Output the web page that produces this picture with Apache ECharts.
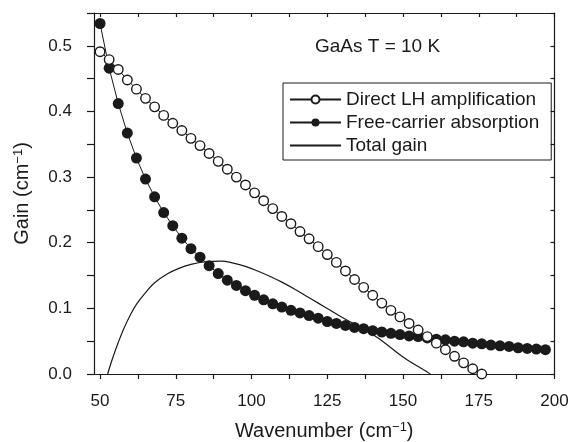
<!DOCTYPE html>
<html>
<head>
<meta charset="utf-8">
<script src="https://cdn.jsdelivr.net/npm/echarts@6/dist/echarts.min.js"></script>
<style>
html,body{margin:0;padding:0;background:#fff;}
#chart{width:572px;height:442px;}
</style>
</head>
<body>
<div id="chart"></div>
<script>
// Direct LH amplification (open circles)
var directX = [50,53,56,59,62,65,68,71,74,77,80,83,86,89,92,95,98,101,104,107,110,113,116,119,122,125,128,131,134,137,140,143,146,149,152,155,158,161,164,167,170,173,176];
var directY = [0.491,0.479,0.464,0.448,0.434,0.420,0.407,0.394,0.382,0.371,0.359,0.348,0.336,0.324,0.312,0.300,0.288,0.276,0.264,0.252,0.240,0.229,0.217,0.206,0.194,0.182,0.170,0.157,0.144,0.132,0.120,0.108,0.097,0.087,0.077,0.067,0.057,0.047,0.037,0.027,0.017,0.008,0.000];

// Free-carrier absorption (filled circles)
var freeX = [50,53,56,59,62,65,68,71,74,77,80,83,86,89,92,95,98,101,104,107,110,113,116,119,122,125,128,131,134,137,140,143,146,149,152,155,158,161,164,167,170,173,176,179,182,185,188,191,194,197];
var freeY = [0.534,0.466,0.412,0.367,0.329,0.297,0.270,0.246,0.226,0.207,0.191,0.178,0.165,0.153,0.143,0.135,0.127,0.120,0.113,0.107,0.102,0.097,0.093,0.089,0.085,0.080,0.077,0.074,0.071,0.069,0.066,0.064,0.062,0.060,0.058,0.057,0.055,0.053,0.052,0.050,0.049,0.047,0.046,0.044,0.043,0.042,0.040,0.039,0.038,0.037];

// Total gain (solid line)
var totalX = [52.5,54,56,58,60,62,65,68,72,76,80,85,90,94,98,102,106,110,114,118,122,126,130,134,138,142,146,150,154,158,159];
var totalY = [0.000,0.022,0.048,0.071,0.090,0.106,0.124,0.139,0.152,0.161,0.167,0.171,0.172,0.169,0.164,0.157,0.149,0.140,0.130,0.119,0.108,0.097,0.086,0.076,0.066,0.054,0.040,0.026,0.014,0.003,0.000];

// Axis ticks / labels
var xLabels = [50,75,100,125,150,175,200];
var xTicks = [50,62.5,75,87.5,100,112.5,125,137.5,150,162.5,175,187.5,200];
var yLabels = [0,0.1,0.2,0.3,0.4,0.5];
var yTicks = [0,0.05,0.1,0.15,0.2,0.25,0.3,0.35,0.4,0.45,0.5,0.55];

var seriesNames = ['Direct LH amplification','Free-carrier absorption','Total gain'];
var annotation = 'GaAs T = 10 K';

function zip(a, b){ var out=[]; for (var i=0;i<a.length;i++) out.push([a[i], b[i]]); return out; }

var FONT = '"Liberation Sans", Arial, Helvetica, sans-serif';
var INK = '#1a1a1a';

var chart = echarts.init(document.getElementById('chart'), null, {renderer:'canvas'});
chart.setOption({
  animation: false,
  backgroundColor: '#fff',
  textStyle: {fontFamily: FONT, color: INK},
  title: {
    text: annotation, left: 315, top: 37, padding: 0,
    textStyle: {fontSize: 19, fontWeight: 'normal', color: INK, fontFamily: FONT}
  },
  grid: {left: 94, right: 17.5, top: 13, bottom: 68, containLabel: false, outerBoundsMode: 'none'},
  legend: {
    data: [
      {name: seriesNames[0]},
      {name: seriesNames[1]},
      {name: seriesNames[2], itemStyle: {opacity: 0, borderWidth: 0}}
    ],
    orient: 'vertical', left: 283, top: 83,
    borderColor: INK, borderWidth: 1, borderRadius: 0,
    padding: [7, 12, 5, 6],
    itemGap: 4, itemWidth: 51, itemHeight: 10,
    textStyle: {fontSize: 19, color: INK, fontFamily: FONT},
    selectedMode: false
  },
  xAxis: [{
    type: 'value', min: 48, max: 200, position: 'bottom',
    name: 'Wavenumber (cm{sup|\u22121})', nameLocation: 'middle', nameGap: 47,
    nameTextStyle: {fontSize: 20, color: INK, fontFamily: FONT,
      rich: {sup: {fontSize: 13, verticalAlign: 'top', color: INK, fontFamily: FONT}}},
    axisLine: {show: true, onZero: false, lineStyle: {color: INK, width: 1.2}},
    axisTick: {show: true, inside: false, length: 5, lineStyle: {color: INK, width: 1.2}, customValues: xTicks},
    axisLabel: {show: true, fontSize: 17, color: INK, fontFamily: FONT, margin: 19, customValues: xLabels,
      formatter: function(v){ return String(v); }},
    splitLine: {show: false}
  }, {
    type: 'value', min: 48, max: 200, position: 'top',
    axisLine: {show: true, onZero: false, lineStyle: {color: INK, width: 1.2}},
    axisTick: {show: true, inside: true, length: 4, lineStyle: {color: INK, width: 1.2}, customValues: xTicks},
    axisLabel: {show: false},
    splitLine: {show: false}
  }],
  yAxis: [{
    type: 'value', min: 0, max: 0.55, position: 'left',
    name: 'Gain (cm{sup|\u22121})', nameLocation: 'middle', nameGap: 62, nameRotate: 90,
    nameTextStyle: {fontSize: 20, color: INK, fontFamily: FONT,
      rich: {sup: {fontSize: 13, verticalAlign: 'top', color: INK, fontFamily: FONT}}},
    axisLine: {show: true, onZero: false, lineStyle: {color: INK, width: 1.2}},
    axisTick: {show: true, inside: false, length: 7, lineStyle: {color: INK, width: 1.2}, customValues: yTicks},
    axisLabel: {show: true, fontSize: 17, color: INK, fontFamily: FONT, margin: 22, customValues: yLabels,
      formatter: function(v){ return v.toFixed(1); }},
    splitLine: {show: false}
  }, {
    type: 'value', min: 0, max: 0.55, position: 'right',
    axisLine: {show: true, onZero: false, lineStyle: {color: INK, width: 1.2}},
    axisTick: {show: true, inside: true, length: 4, lineStyle: {color: INK, width: 1.2}, customValues: yTicks},
    axisLabel: {show: false},
    splitLine: {show: false}
  }],
  series: [{
    name: seriesNames[2], type: 'line', xAxisIndex: 0, yAxisIndex: 0,
    data: zip(totalX, totalY), smooth: 0.4, symbol: 'none', clip: true,
    lineStyle: {color: INK, width: 1.2}, itemStyle: {color: INK}, z: 2
  }, {
    name: seriesNames[1], type: 'line', xAxisIndex: 0, yAxisIndex: 0,
    data: zip(freeX, freeY), symbol: 'circle', symbolSize: 11, showAllSymbol: true, clip: true,
    lineStyle: {color: INK, width: 1}, itemStyle: {color: INK, borderColor: INK, borderWidth: 0}, z: 3
  }, {
    name: seriesNames[0], type: 'line', xAxisIndex: 0, yAxisIndex: 0,
    data: zip(directX, directY), symbol: 'circle', symbolSize: 9.5, showAllSymbol: true, clip: true,
    lineStyle: {color: INK, width: 1}, itemStyle: {color: '#fff', borderColor: INK, borderWidth: 1.4}, z: 4
  }]
});
</script>
</body>
</html>
